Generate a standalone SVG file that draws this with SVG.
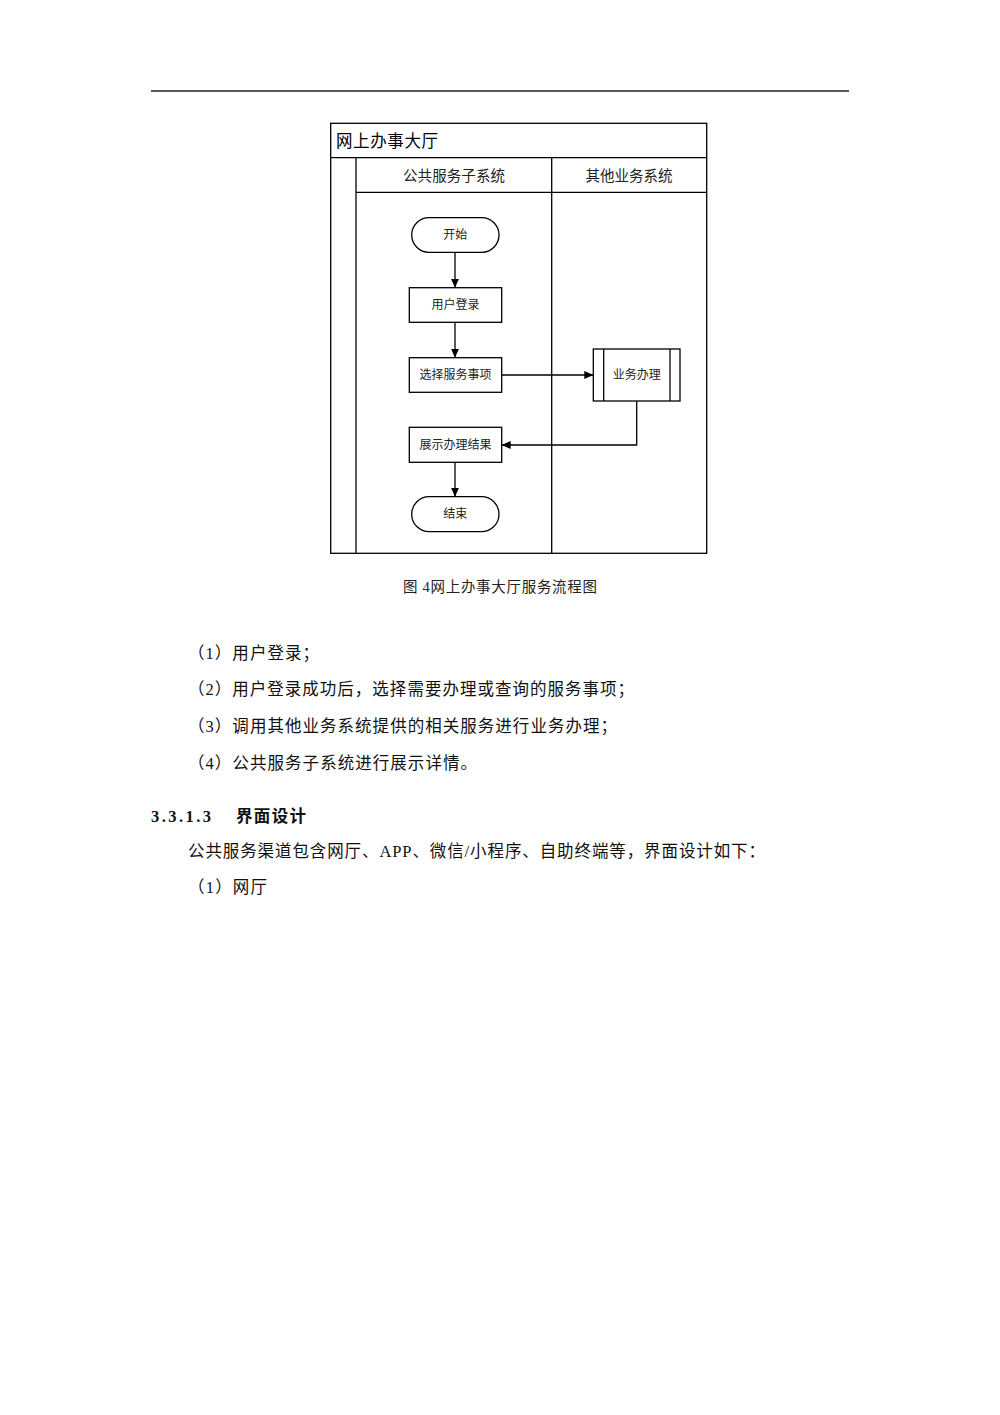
<svg xmlns="http://www.w3.org/2000/svg" width="1000" height="1415" viewBox="0 0 1000 1415">
<defs>
<style>
.ln{fill:none;stroke:#000;stroke-width:1.3}
.nd{fill:#fff;stroke:#000;stroke-width:1.3}
.lbl{font-family:"Liberation Serif","Noto Sans CJK SC",serif;font-size:12px;fill:#222;text-anchor:middle;dominant-baseline:central}
.hdr{font-family:"Liberation Serif","Noto Sans CJK SC",serif;font-size:14.5px;fill:#222;text-anchor:middle;dominant-baseline:central}
.body{font-family:"Liberation Serif","Noto Sans CJK SC",serif;font-size:16.5px;fill:#111;dominant-baseline:central}
.cap{font-family:"Liberation Serif","Noto Sans CJK SC",serif;font-size:14.5px;fill:#222;text-anchor:middle;dominant-baseline:central}
</style>
<marker id="ah" markerUnits="userSpaceOnUse" markerWidth="10" markerHeight="8" refX="9" refY="4" orient="auto">
<path d="M0,0 L9,4 L0,8 Z" fill="#000"/>
</marker>
</defs>
<rect width="1000" height="1415" fill="#fff"/>
<line x1="151" y1="91" x2="849" y2="91" stroke="#222" stroke-width="1.6"/>

<g id="pool">
<rect x="330.7" y="123.3" width="376" height="430" class="ln"/>
<line x1="330.7" y1="157.7" x2="706.7" y2="157.7" class="ln"/>
<line x1="356" y1="157.7" x2="356" y2="553.3" class="ln"/>
<line x1="551.7" y1="157.7" x2="551.7" y2="553.3" class="ln"/>
<line x1="356" y1="192.3" x2="706.7" y2="192.3" class="ln"/>
<text x="336" y="141" textLength="102" lengthAdjust="spacing" style="font-family:'Liberation Serif','Noto Sans CJK SC',serif;font-size:16.5px;fill:#000;dominant-baseline:central">网上办事大厅</text>
<text x="454" y="175.5" class="hdr" textLength="102" lengthAdjust="spacing">公共服务子系统</text>
<text x="629" y="175.5" class="hdr" textLength="87" lengthAdjust="spacing">其他业务系统</text>
</g>

<g id="connectors">
<line x1="455" y1="252.3" x2="455" y2="287.7" class="ln" marker-end="url(#ah)"/>
<line x1="455" y1="322.3" x2="455" y2="357.7" class="ln" marker-end="url(#ah)"/>
<line x1="501.7" y1="375" x2="593.3" y2="375" class="ln" marker-end="url(#ah)"/>
<polyline points="636.7,401 636.7,445 501.7,445" class="ln" marker-end="url(#ah)"/>
<line x1="455" y1="462.3" x2="455" y2="496.7" class="ln" marker-end="url(#ah)"/>
</g>

<g id="start">
<rect x="411.7" y="217.7" width="87.3" height="34.6" rx="17.3" ry="17.3" class="nd"/>
<text x="455.3" y="235" class="lbl">开始</text>
</g>
<g id="login">
<rect x="409.3" y="287.7" width="92.4" height="34.6" class="nd"/>
<text x="455.5" y="305" class="lbl">用户登录</text>
</g>
<g id="select">
<rect x="409.3" y="357.7" width="92.4" height="34.6" class="nd"/>
<text x="455.5" y="375" class="lbl">选择服务事项</text>
</g>
<g id="process">
<rect x="593.3" y="349" width="86.7" height="52" class="nd"/>
<line x1="603.7" y1="349" x2="603.7" y2="401" class="ln"/>
<line x1="670" y1="349" x2="670" y2="401" class="ln"/>
<text x="636.7" y="375" class="lbl">业务办理</text>
</g>
<g id="show">
<rect x="409.3" y="427.3" width="92.4" height="35" class="nd"/>
<text x="455.5" y="444.8" class="lbl">展示办理结果</text>
</g>
<g id="end">
<rect x="411.7" y="496.7" width="87.3" height="35" rx="17.5" ry="17.5" class="nd"/>
<text x="455.3" y="514.2" class="lbl">结束</text>
</g>

<text x="500" y="587" class="cap" textLength="194" lengthAdjust="spacing">图 4网上办事大厅服务流程图</text>

<text x="188" y="653.3" class="body" textLength="131" lengthAdjust="spacing">（1）用户登录；</text>
<text x="188" y="689.3" class="body" textLength="446" lengthAdjust="spacing">（2）用户登录成功后，选择需要办理或查询的服务事项；</text>
<text x="188" y="726.5" class="body" textLength="429" lengthAdjust="spacing">（3）调用其他业务系统提供的相关服务进行业务办理；</text>
<text x="188" y="763" class="body" textLength="289" lengthAdjust="spacing">（4）公共服务子系统进行展示详情。</text>
<text x="151" y="816" class="body" style="font-weight:bold" textLength="60" lengthAdjust="spacing">3.3.1.3</text>
<text x="236" y="816" class="body" style="font-weight:bold" textLength="70" lengthAdjust="spacing">界面设计</text>
<text x="188" y="851" class="body" textLength="577" lengthAdjust="spacing">公共服务渠道包含网厅、APP、微信/小程序、自助终端等，界面设计如下：</text>
<text x="188" y="887" class="body" textLength="79" lengthAdjust="spacing">（1）网厅</text>
</svg>
